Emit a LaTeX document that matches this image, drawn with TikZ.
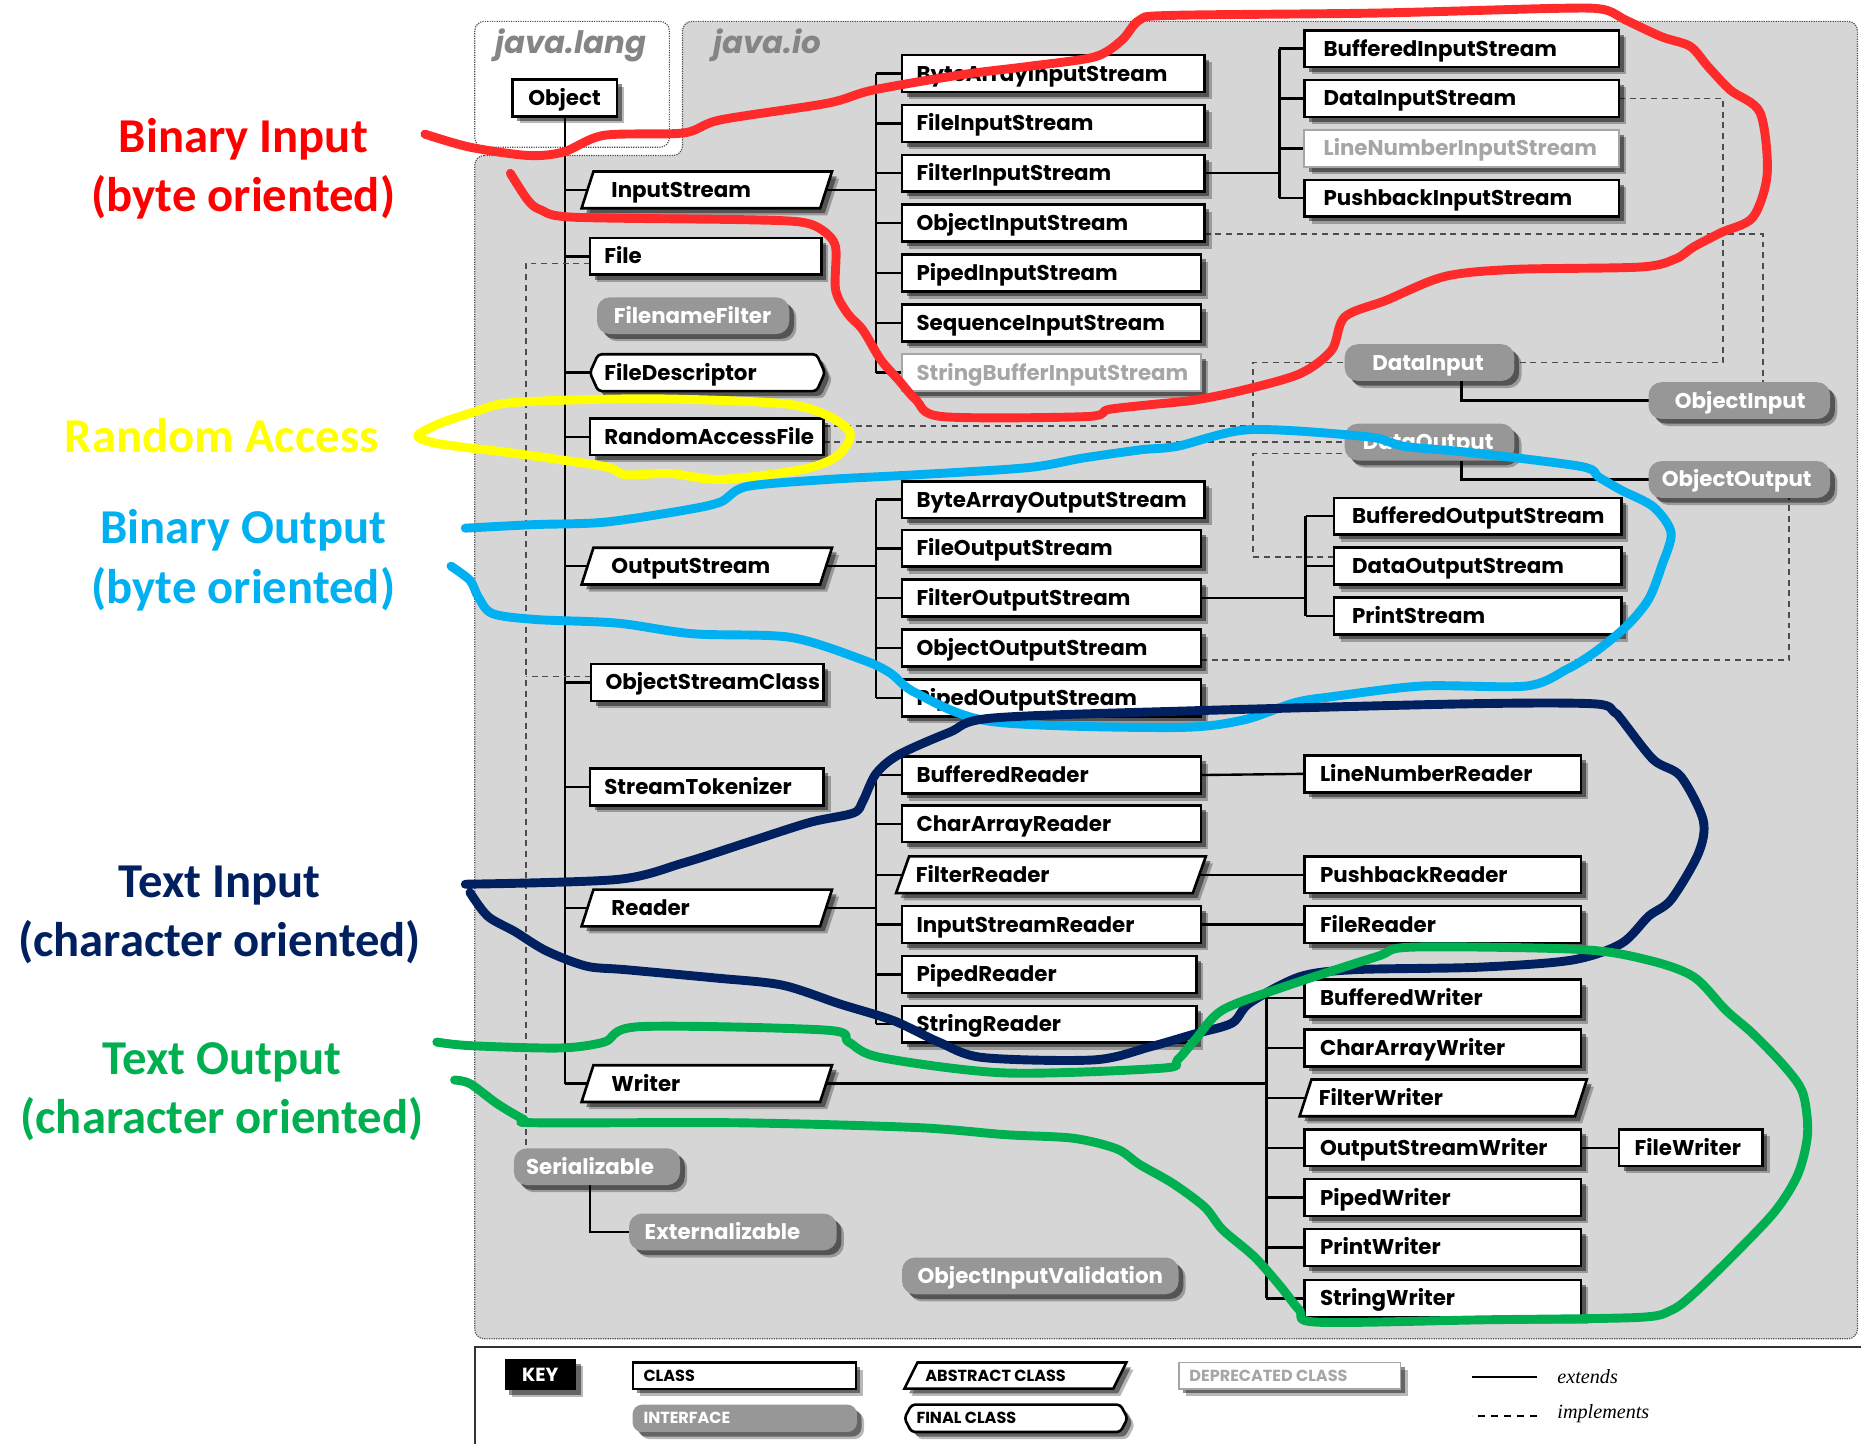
\documentclass[tikz,border=0pt]{standalone}
\usepackage{fontspec}
\usetikzlibrary{shadows}
\newfontfamily\boxfont{Poppins}
\newfontfamily\notefont{Carlito}
\newfontfamily\keyserif{Liberation Serif}

\definecolor{pane}{HTML}{D6D6D6}
\definecolor{iface}{HTML}{979797}
\definecolor{depr}{HTML}{A6A6A6}
\definecolor{pkggray}{HTML}{858585}
\definecolor{penred}{HTML}{FF2A2A}
\definecolor{labred}{HTML}{FF0000}
\definecolor{penyel}{HTML}{FFFF00}
\definecolor{penblue}{HTML}{00B0F0}
\definecolor{pennavy}{HTML}{002060}
\definecolor{pengreen}{HTML}{00B050}

\pgfdeclarelayer{bg}
\pgfdeclarelayer{wires}
\pgfdeclarelayer{ink}
\pgfsetlayers{bg,wires,main,ink}

\tikzset{
  soft shadow/.style={
    drop shadow={shadow xshift=6pt, shadow yshift=-6pt, opacity=.28, fill=black},
    drop shadow={shadow xshift=4pt, shadow yshift=-4pt, opacity=.45, fill=black}},
  boxbase/.style={anchor=west, minimum height=31pt, inner sep=0pt, outer sep=0pt,
    line width=2.2pt, soft shadow},
  jcls/.style={boxbase, rectangle, draw=black, fill=white},
  jdep/.style={boxbase, rectangle, draw=depr, fill=white, line width=1.6pt},
  jint/.style={boxbase, rectangle, rounded corners=11pt, fill=iface, draw=none},
  frame/.style={anchor=west, rectangle, inner sep=0pt, outer sep=0pt, minimum height=31pt},
  absline/.style={draw=black, fill=white, line width=2.2pt, line join=miter, soft shadow},
  finline/.style={draw=black, fill=white, line width=2.2pt, rounded corners=3pt, soft shadow},
  lbl/.style={anchor=base west, inner sep=0pt, yshift=-6.3pt,
    font=\boxfont\bfseries\fontsize{18}{20}\selectfont, text=black},
  lblw/.style={lbl, text=white},
  lblg/.style={lbl, text=depr},
  klbl/.style={anchor=base west, inner sep=0pt, yshift=-4.6pt,
    font=\boxfont\bfseries\fontsize{13.5}{15}\selectfont, text=black},
  klblw/.style={klbl, text=white},
  klblg/.style={klbl, text=depr},
  wire/.style={line width=2pt, draw=black},
  impl/.style={line width=1.5pt, draw=black!70, dash pattern=on 5pt off 4pt},
  pen/.style={line width=7.5pt, line cap=round, line join=round},
  note/.style={align=center, font=\notefont\bfseries\fontsize{41}{50}\selectfont},
  pkg/.style={anchor=west, inner sep=0pt, text=pkggray,
    font=\boxfont\bfseries\itshape\fontsize{26}{28}\selectfont},
  legtxt/.style={anchor=west, inner sep=0pt,
    font=\keyserif\itshape\fontsize{17}{18}\selectfont},
}

% plain, deprecated and interface boxes
% #1 text indent, #2 box style, #3 text style, #4 name, #5 west point, #6 width, #7 text
\newcommand\jbox[7][12]{%
  \node[#2, minimum width=#6pt, label={[#3, xshift=#1pt]west:#7}] (#4) at (#5)
    {\phantom{x}};}
% abstract classes: a parallelogram round a frame that runs between the mid-slants
% #1 text indent, #2 frame extras, #3 text style, #4 name, #5 west point, #6 width,
% #7 half slant, #8 text
\newcommand\jpar[8][12]{%
  \node[frame, minimum width=#6pt, #2] (#4) at (#5) {};
  \path[absline] ([xshift=-#7pt]#4.south west) -- ([xshift=#7pt]#4.north west)
    -- ([xshift=#7pt]#4.north east) -- ([xshift=-#7pt]#4.south east) -- cycle;
  \node[#3, xshift=#1pt] (#4-t) at (#4.west) {#8};}
% final classes: pointed ends
% #1 text indent, #2 frame extras, #3 text style, #4 name, #5 west point, #6 width,
% #7 point depth, #8 text
\newcommand\jhex[8][12]{%
  \node[frame, minimum width=#6pt, #2] (#4) at (#5) {};
  \path[finline] (#4.west) -- ([xshift=#7pt]#4.north west)
    -- ([xshift=-#7pt]#4.north east) -- (#4.east)
    -- ([xshift=-#7pt]#4.south east) -- ([xshift=#7pt]#4.south west) -- cycle;
  \node[#3, xshift=#1pt] (#4-t) at (#4.west) {#8};}

\begin{document}
\begin{tikzpicture}[x=1pt, y=-1pt]
\useasboundingbox (0,0) rectangle (1568,1216);

% package panes
\begin{pgfonlayer}{bg}
  \path[fill=pane, draw=black!70, densely dotted, line width=1pt, rounded corners=8pt]
    (400,131) -- (575,131) -- (575,18) -- (1565,18) -- (1565,1128) -- (400,1128) -- cycle;
  \path[fill=white, draw=black!70, densely dotted, line width=1pt, rounded corners=8pt]
    (400,18) rectangle (564,124);
  \path[fill=white, draw=black!80, line width=1.6pt] (400,1135) rectangle (1575,1225);
\end{pgfonlayer}

\node[pkg] (jlang) at (417,38) {java.lang};
\node[pkg] (jio) at (601,38) {java.io};

% java.lang and the first level of java.io
\jbox[13]{jcls}{lbl}{Object}{432,82.5}{88}{Object}
\jpar[20]{}{lbl}{InputStream}{495,160}{201}{5}{InputStream}
\jbox{jcls}{lbl}{File}{497,216}{195}{File}
\jbox[14]{jint}{lblw}{FilenameFilter}{503,266}{162}{FilenameFilter}
\jhex{}{lbl}{FileDescriptor}{497,314}{198}{7}{FileDescriptor}
\jbox{jcls}{lbl}{RandomAccessFile}{497,368}{197}{RandomAccessFile}
\jpar[20]{}{lbl}{OutputStream}{495,477}{201}{5}{OutputStream}
\jbox{jcls}{lbl}{ObjectStreamClass}{498,575}{196}{ObjectStreamClass}
\jbox{jcls}{lbl}{StreamTokenizer}{497,663}{197}{StreamTokenizer}
\jpar[20]{}{lbl}{Reader}{495,765}{201}{5}{Reader}
\jpar[20]{}{lbl}{Writer}{495,913}{201}{5}{Writer}
\jbox[10]{jint}{lblw}{Serializable}{433,983}{140}{Serializable}
\jbox[13]{jint}{lblw}{Externalizable}{530,1038}{175}{Externalizable}
\jbox[13]{jint}{lblw}{ObjectInputValidation}{760,1075}{233}{ObjectInputValidation}

% input streams
\jbox{jcls}{lbl}{BAIS}{760,62}{255}{ByteArrayInputStream}
\jbox{jcls}{lbl}{FIS}{760,104}{255}{FileInputStream}
\jbox{jcls}{lbl}{FltIS}{760,146}{255}{FilterInputStream}
\jbox{jcls}{lbl}{OIS}{760,188}{255}{ObjectInputStream}
\jbox{jcls}{lbl}{PIS}{760,230}{252}{PipedInputStream}
\jbox{jcls}{lbl}{SIS}{760,272}{252}{SequenceInputStream}
\jbox{jdep}{lblg}{SBIS}{760,314}{252}{StringBufferInputStream}
\jbox[16]{jcls}{lbl}{BIS}{1099,41}{265}{BufferedInputStream}
\jbox[16]{jcls}{lbl}{DIS}{1099,83}{265}{DataInputStream}
\jbox[16]{jdep}{lblg}{LNIS}{1099,125}{265}{LineNumberInputStream}
\jbox[16]{jcls}{lbl}{PBIS}{1099,167}{265}{PushbackInputStream}

% data interfaces
\jbox[23]{jint}{lblw}{DataInput}{1133,305.5}{143}{DataInput}
\jbox[22]{jint}{lblw}{ObjectInput}{1389,337.5}{153}{ObjectInput}
\jbox[15]{jint}{lblw}{DataOutput}{1133,372.5}{143}{DataOutput}
\jbox[11]{jint}{lblw}{ObjectOutput}{1389,404}{153}{ObjectOutput}

% output streams
\jbox{jcls}{lbl}{BAOS}{760,421}{255}{ByteArrayOutputStream}
\jbox{jcls}{lbl}{FOS}{760,462}{252}{FileOutputStream}
\jbox{jcls}{lbl}{FltOS}{760,504}{252}{FilterOutputStream}
\jbox{jcls}{lbl}{OOS}{760,546}{252}{ObjectOutputStream}
\jbox{jcls}{lbl}{POS}{760,588}{252}{PipedOutputStream}
\jbox[15]{jcls}{lbl}{BOS}{1124,435}{242}{BufferedOutputStream}
\jbox[15]{jcls}{lbl}{DOS}{1124,477}{242}{DataOutputStream}
\jbox[15]{jcls}{lbl}{PS}{1124,519}{242}{PrintStream}

% readers
\jbox{jcls}{lbl}{BR}{760,653}{252}{BufferedReader}
\jbox{jcls}{lbl}{CAR}{760,694}{252}{CharArrayReader}
\jpar[11]{}{lbl}{FR}{760.5,737}{250}{5.5}{FilterReader}
\jbox{jcls}{lbl}{ISR}{760,779}{252}{InputStreamReader}
\jbox{jcls}{lbl}{PR}{760,821}{248}{PipedReader}
\jbox{jcls}{lbl}{SR}{760,863}{248}{StringReader}
\jbox[13]{jcls}{lbl}{LNR}{1099,652}{233}{LineNumberReader}
\jbox[13]{jcls}{lbl}{PBR}{1099,737}{233}{PushbackReader}
\jbox[13]{jcls}{lbl}{FileReader}{1099,779}{233}{FileReader}

% writers
\jbox[13]{jcls}{lbl}{BW}{1099,841}{233}{BufferedWriter}
\jbox[13]{jcls}{lbl}{CAW}{1099,883}{233}{CharArrayWriter}
\jpar[11]{}{lbl}{FW}{1100,925}{232}{5}{FilterWriter}
\jbox[13]{jcls}{lbl}{OSW}{1099,967}{233}{OutputStreamWriter}
\jbox[13]{jcls}{lbl}{PW}{1099,1009}{233}{PipedWriter}
\jbox[13]{jcls}{lbl}{PrW}{1099,1051}{233}{PrintWriter}
\jbox[13]{jcls}{lbl}{SW}{1099,1094}{233}{StringWriter}
\jbox[13]{jcls}{lbl}{FileWriter}{1364,967}{121}{FileWriter}

% bend points of the connectors
\coordinate (bIn) at (738,160);
\coordinate (bOut) at (738,477);
\coordinate (bRd) at (738,765);
\coordinate (bFIn) at (1078,146);
\coordinate (bFOut) at (1100,504);
\coordinate (bWr) at (1067,913);
\coordinate (serTop) at (443,967);
\coordinate (jA) at (1056,305.5);
\coordinate (jB) at (1056,382);
\coordinate (jC) at (1452,305.5);

\begin{pgfonlayer}{wires}
  % extends
  \draw[wire] (Object.south) -- (Object.south |- Writer.west);
  \foreach \n in {InputStream,File,FileDescriptor,RandomAccessFile,OutputStream,
                  ObjectStreamClass,StreamTokenizer,Reader,Writer}
    \draw[wire] (Object.south |- \n.west) -- (\n.west);
  \draw[wire] (InputStream.east) -- (bIn);
  \draw[wire] (bIn |- BAIS.west) -- (bIn |- SBIS.west);
  \foreach \n in {BAIS,FIS,FltIS,OIS,PIS,SIS,SBIS}
    \draw[wire] (bIn |- \n.west) -- (\n.west);
  \draw[wire] (OutputStream.east) -- (bOut);
  \draw[wire] (bOut |- BAOS.west) -- (bOut |- POS.west);
  \foreach \n in {BAOS,FOS,FltOS,OOS,POS}
    \draw[wire] (bOut |- \n.west) -- (\n.west);
  \draw[wire] (Reader.east) -- (bRd);
  \draw[wire] (bRd |- BR.west) -- (bRd |- SR.west);
  \foreach \n in {BR,CAR,FR,ISR,PR,SR}
    \draw[wire] (bRd |- \n.west) -- (\n.west);
  \draw[wire] (FltIS.east) -- (bFIn);
  \draw[wire] (bFIn |- BIS.west) -- (bFIn |- PBIS.west);
  \foreach \n in {BIS,DIS,LNIS,PBIS}
    \draw[wire] (bFIn |- \n.west) -- (\n.west);
  \draw[wire] (FltOS.east) -- (bFOut);
  \draw[wire] (bFOut |- BOS.west) -- (bFOut |- PS.west);
  \foreach \n in {BOS,DOS,PS}
    \draw[wire] (bFOut |- \n.west) -- (\n.west);
  \draw[wire] (Writer.east) -- (bWr);
  \draw[wire] (bWr |- BW.west) -- (bWr |- SW.west);
  \foreach \n in {BW,CAW,FW,OSW,PW,PrW,SW}
    \draw[wire] (bWr |- \n.west) -- (\n.west);
  \draw[wire] (BR.east) -- (LNR.west);
  \draw[wire] (FR.east) -- (PBR.west);
  \draw[wire] (ISR.east) -- (FileReader.west);
  \draw[wire] (OSW.east) -- (FileWriter.west);
  \draw[wire] ([xshift=-6pt]Serializable.south) |- (Externalizable.west);
  \draw[wire] ([xshift=27pt]DataInput.south) |- (ObjectInput.west);
  \draw[wire] ([xshift=27pt]DataOutput.south) |- (ObjectOutput.west);
  % implements
  \draw[impl] ([yshift=-6pt]File.west) -| (serTop);
  \draw[impl] ([yshift=5pt]ObjectStreamClass.west) -- ++(-55,0);
  \draw[impl] ([yshift=9pt]RandomAccessFile.east) -| (jA) -- (DataInput.west);
  \draw[impl] (RandomAccessFile.east |- DataOutput.west) -- (DataOutput.west);
  \draw[impl] ([yshift=8pt]DOS.west) -| (jB) -- ([yshift=-9.5pt]DataOutput.west);
  \draw[impl] (DIS.east) -| (jC) -- (DataInput.east);
  \draw[impl] ([yshift=-9pt]OIS.east) -| ([xshift=20pt]ObjectInput.north);
  \draw[impl] ([yshift=-10pt]OOS.east) -| ([xshift=42pt]ObjectOutput.south);
\end{pgfonlayer}

% key
\node[anchor=west, fill=black, text=white, minimum width=60pt, minimum height=26pt,
      inner sep=0pt, soft shadow, font=\boxfont\bfseries\fontsize{16}{18}\selectfont]
      (keytag) at (425,1158) {KEY};
\jbox[9]{jcls, minimum height=22pt, line width=1.8pt}{klbl}{kcls}{533,1159}{188}{CLASS}
\jpar[12]{minimum height=22pt}{klbl}{kabs}{767.5,1159}{176}{5.5}{ABSTRACT CLASS}
\jbox[9]{jdep, minimum height=22pt}{klblg}{kdep}{993,1159}{187}{DEPRECATED CLASS}
\jbox[9]{jint, minimum height=23pt, rounded corners=8pt}{klblw}{kint}{533,1195}{189}{INTERFACE}
\jhex[10]{minimum height=23pt}{klbl}{kfin}{762,1195}{188}{6}{FINAL CLASS}
\node[legtxt] (lext) at (1312,1160) {extends};
\node[legtxt] (limp) at (1312,1191) {implements};
\draw[line width=2pt] ([xshift=-17pt]lext.west) -- ++(-55,0);
\draw[line width=1.8pt, dash pattern=on 6pt off 5pt] ([xshift=-17pt,yshift=-2pt]limp.west) -- ++(-55,0);

% category notes
\node[note, text=labred] (nBinIn) at (205,142) {Binary Input\\(byte oriented)};
\node[note, text=penyel] (nRand) at (187,367) {Random Access};
\node[note, text=penblue] (nBinOut) at (205,472) {Binary Output\\(byte oriented)};
\node[note, text=pennavy] (nTxtIn) at (185,771) {Text Input\\(character oriented)};
\node[note, text=pengreen] (nTxtOut) at (187,920) {Text Output\\(character oriented)};

% hand-drawn groupings
\begin{pgfonlayer}{ink}
\draw[pen, penred] plot[smooth, tension=0.5] coordinates {
  (358,113) (396,124) (445,131) (475,128) (509,114) (576,112) (607,101) (697,87)
  (735,76) (810,63) (866,56) (922,48) (945,34) (960,17) (986,13) (1160,11) (1313,7)
  (1351,8) (1370,17) (1400,31) (1424,39) (1439,56) (1458,76) (1483,95) (1489,146)
  (1477,183) (1450,196) (1427,208) (1412,218) (1382,225) (1275,227) (1217,233)
  (1168,253) (1133,267) (1122,295) (1095,315) (1046,329) (1007,337) (969,341)
  (934,345) (915,351) (794,351) (772,337) (757,320) (742,303) (727,278) (714,264)
  (704,244) (704,208) (693,194) (674,187) (622,185) (483,183) (456,177) (445,169)
  (430,146)};
\draw[pen, penyel] plot[smooth, tension=0.5] coordinates {
  (400,378) (365,373) (352,367) (370,357) (400,347) (434,339) (547,336) (659,340)
  (697,350) (716,364) (712,377) (701,387) (674,396) (607,404) (565,399) (527,400)
  (509,393) (434,382) (400,378)};
\draw[pen, penblue] plot[smooth, tension=0.5] coordinates {
  (392,445) (450,442) (509,440) (576,430) (607,423) (629,410) (697,404) (772,400)
  (866,394) (912,386) (961,379) (992,376) (1053,362) (1152,368) (1183,376)
  (1236,381) (1332,393) (1347,402) (1366,413) (1393,427) (1408,449) (1400,477)
  (1389,505) (1370,528) (1343,550) (1320,564) (1286,578) (1198,578) (1122,587)
  (1091,592) (1046,607) (988,613) (836,608) (772,584) (750,567) (727,556)
  (666,537) (584,534) (520,525) (452,522) (415,517) (403,503) (396,489) (380,477)};
\draw[pen, pennavy] plot[smooth, tension=0.5] coordinates {
  (392,745) (520,741) (576,727) (629,710) (682,693) (719,685) (727,675) (738,652)
  (757,636) (800,617) (836,605) (1000,599) (1236,593) (1343,593) (1360,600)
  (1366,606) (1393,640) (1416,654) (1435,691) (1431,719) (1408,758) (1389,772)
  (1366,795) (1324,809) (1244,815) (1141,817) (1095,823) (1053,845) (1038,862)
  (1007,871) (969,882) (922,893) (828,891) (791,878) (753,860) (708,846) (659,830)
  (603,824) (527,817) (494,814) (460,801) (434,785) (411,772) (396,752)};
\draw[pen, pengreen] plot[smooth, tension=0.5] coordinates {
  (368,878) (396,881) (471,883) (509,878) (539,865) (697,868) (715,878) (742,891)
  (847,904) (979,900) (992,893) (1007,876) (1030,851) (1083,831) (1160,806)
  (1190,798) (1332,800) (1389,809) (1427,823) (1454,851) (1477,871) (1504,899)
  (1519,921) (1523,955) (1515,989) (1496,1020) (1462,1056) (1427,1090) (1408,1104)
  (1380,1110) (1250,1112) (1110,1114) (1095,1104) (1079,1084) (1057,1059)
  (1030,1036) (1015,1017) (988,997) (960,981) (941,968) (904,959) (847,956)
  (772,950) (622,946) (452,946) (441,943) (419,930) (396,913) (383,910)};
\end{pgfonlayer}
\end{tikzpicture}
\end{document}
